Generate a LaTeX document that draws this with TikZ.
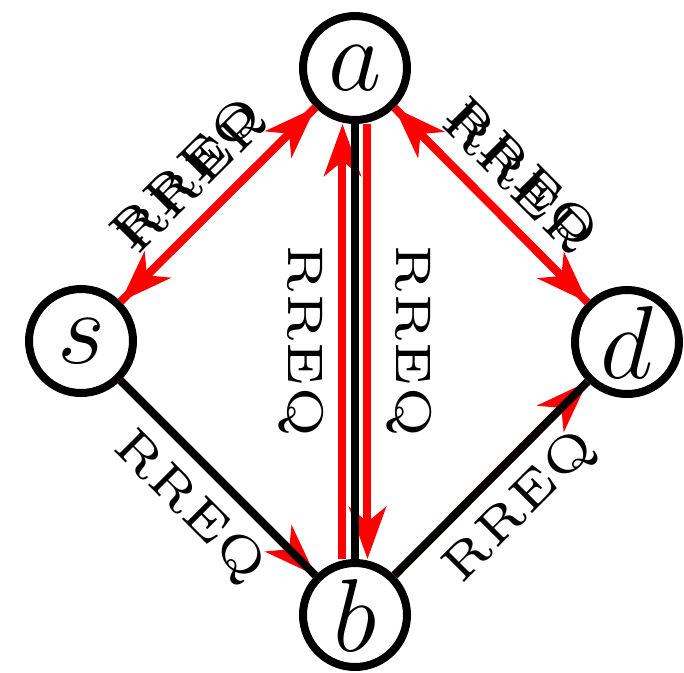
\documentclass[tikz,border=0pt]{standalone}
\usepackage{amsmath,amssymb}
\usetikzlibrary{arrows.meta,positioning,calc}

\begin{document}
\begin{tikzpicture}[
  x=0.2pt,y=-0.2pt,
  host/.style={circle,draw=black,line width=1.6pt,minimum size=20.8pt,inner sep=0pt,font=\huge},
  link/.style={draw=black,line width=1.6pt},
  msg/.style={draw=red,line width=1.6pt,-{Stealth[length=10.4pt,width=7.4pt,inset=3pt]}},
  tag/.style={font=\tiny,scale=2,inner sep=1.1pt}
]
  \useasboundingbox (0,0) rectangle (684,672);
  \node[host] (a) at (355,68) {$a$};
  \node[host] (s) at (81,341) {$s$};
  \node[host] (d) at (627,342) {$d$};
  \node[host] (b) at (355,615) {$b$};
  % route requests and replies
  \draw[msg] (s) -- node[tag,sloped,above] {RREQ} (a);
  \draw[msg] (a) -- node[tag,sloped,above] {RREP} (s);
  \draw[msg] (a) -- node[tag,sloped,above] {RREQ} (d);
  \draw[msg] (d) -- node[tag,sloped,above] {RREP} (a);
  \draw[msg] (s) -- node[tag,sloped,below] {RREQ} (b);
  \draw[msg] (b) -- node[tag,sloped,below] {RREQ} (d);
  \draw[msg] ([xshift=-2.5pt]b.north) -- node[tag,rotate=-90,anchor=north] {RREQ} ([xshift=-2.5pt]a.south);
  \draw[msg] ([xshift=2.5pt]a.south) -- node[tag,rotate=-90,anchor=south] {RREQ} ([xshift=2.5pt]b.north);
  % links
  \draw[link] (s) -- (b);
  \draw[link] (b) -- (d);
  \draw[link] (a) -- (b);
\end{tikzpicture}
\end{document}
